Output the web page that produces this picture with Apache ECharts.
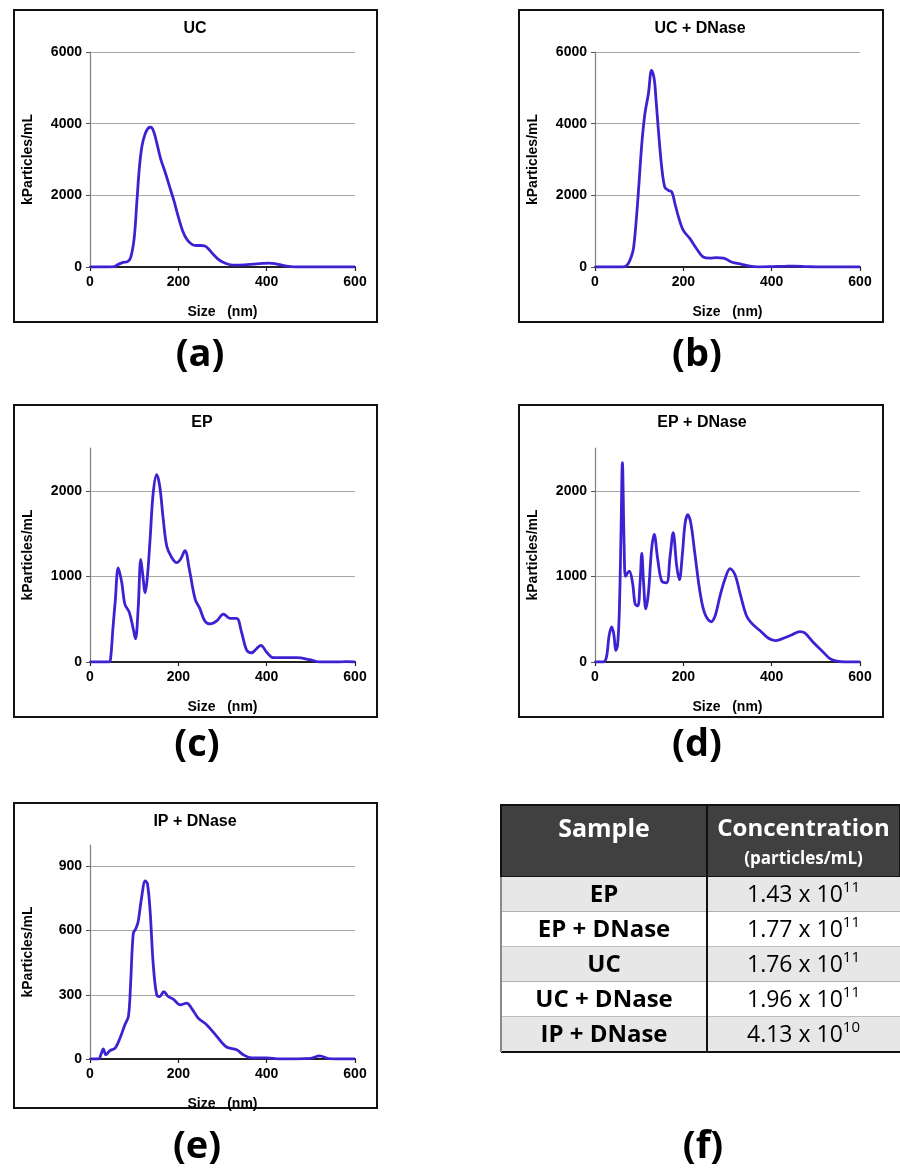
<!DOCTYPE html>
<html>
<head>
<meta charset="utf-8">
<script src="https://cdn.jsdelivr.net/npm/echarts@6/dist/echarts.min.js"></script>
<style>
  html, body { margin:0; padding:0; background:#fff; }
  #chart { width:900px; height:1168px; }
</style>
</head>
<body>
<div id="chart"></div>
<script>
// ---------- DATA (size nm, kParticles/mL) ----------
const UC = [[0,0],[40,0],[55,10],[65,80],[75,130],[85,150],[92,260],[100,800],[106,1800],[112,2800],[118,3400],[125,3720],[132,3880],[138,3900],[145,3750],[152,3420],[160,3020],[170,2650],[180,2250],[190,1850],[200,1400],[210,1000],[220,760],[230,640],[240,600],[250,600],[260,585],[270,480],[280,340],[290,220],[300,140],[315,70],[330,50],[350,60],[370,80],[390,100],[405,110],[420,90],[435,50],[450,15],[470,0],[600,0]];
const UC_DNASE = [[0,0],[60,0],[68,10],[75,90],[82,280],[87,510],[92,1100],[98,2050],[106,3440],[113,4280],[121,4840],[128,5490],[134,5250],[138,4700],[143,3900],[151,2790],[158,2230],[166,2140],[174,2090],[181,1770],[189,1400],[200,1020],[215,790],[230,510],[245,280],[260,250],[275,260],[291,250],[309,140],[332,75],[355,20],[380,5],[400,10],[430,20],[450,25],[480,10],[510,0],[600,0]];
const EP = [[0,0],[43,0],[47,60],[52,400],[57,700],[64,1100],[72,925],[79,675],[89,580],[98,385],[103,270],[109,620],[115,1200],[119,1040],[125,810],[130,1000],[136,1430],[143,1970],[151,2190],[158,2050],[166,1660],[174,1350],[185,1220],[196,1160],[205,1200],[215,1300],[225,1080],[238,735],[249,620],[260,480],[272,445],[287,480],[302,560],[317,510],[332,510],[343,350],[355,135],[366,108],[377,155],[387,195],[400,115],[415,50],[438,50],[468,50],[498,27],[521,0],[560,0],[580,5],[600,0]];
const EP_DNASE = [[0,0],[19,0],[26,60],[32,310],[38,410],[43,310],[47,135],[51,190],[55,580],[59,1540],[62,2330],[66,1350],[69,1000],[74,1040],[78,1060],[85,925],[91,675],[97,655],[102,925],[106,1270],[110,925],[115,620],[121,810],[128,1310],[134,1490],[142,1200],[151,945],[162,925],[170,1235],[177,1510],[185,1120],[191,960],[198,1270],[204,1620],[210,1720],[217,1620],[226,1270],[238,810],[249,560],[263,470],[272,540],[283,770],[294,965],[306,1090],[317,1020],[328,810],[343,540],[356,445],[374,365],[392,280],[408,250],[423,270],[445,315],[464,355],[475,340],[494,230],[513,135],[532,40],[547,10],[566,0],[600,0]];
const IP_DNASE = [[0,0],[19,0],[26,28],[30,47],[36,20],[45,39],[57,51],[68,98],[79,160],[87,199],[92,354],[98,587],[104,610],[109,641],[117,757],[125,832],[130,819],[136,695],[143,447],[151,300],[158,292],[167,315],[177,292],[189,279],[204,253],[219,261],[230,237],[245,191],[264,160],[287,106],[309,56],[332,43],[347,20],[366,5],[400,5],[430,0],[500,3],[520,15],[540,2],[560,0],[600,0]];

const panelTitles = ['UC', 'UC + DNase', 'EP', 'EP + DNase', 'IP + DNase'];
const panelData = [UC, UC_DNASE, EP, EP_DNASE, IP_DNASE];
const yMax = [6000, 6000, 2500, 2500, 1000];
const yStep = [2000, 2000, 1000, 1000, 300];
const xTickMax = 600, xTickStep = 200;
const panelLetters = ['(a)', '(b)', '(c)', '(d)', '(e)', '(f)'];

const tableHeader = ['Sample', 'Concentration', '(particles/mL)'];
const tableSamples = ['EP', 'EP + DNase', 'UC', 'UC + DNase', 'IP + DNase'];
const tableMantissa = ['1.43', '1.77', '1.76', '1.96', '4.13'];
const tableExponent = ['11', '11', '11', '11', '10'];

// ---------- LAYOUT ----------
const grids = [
  {left:90, top:52, width:265, height:215},
  {left:595, top:52, width:265, height:215},
  {left:90, top:448, width:265, height:214},
  {left:595, top:448, width:265, height:214},
  {left:90, top:845, width:265, height:214}
];
const boxes = [
  [14,10,363,312],[519,10,364,312],[14,405,363,312],[519,405,364,312],[14,803,363,305]
];
const titlePos = [[195,29],[700,29],[202,423],[702,423],[195,822]];
const letterPos = [[200,355],[697,355],[197,745],[697,745],[197,1147],[703,1147]];

const ARIAL = '"Liberation Sans", Arial, sans-serif';
const CAL = '"Open Sans", "Lato", sans-serif';
const LINE = '#3c23d2';

const xAxes = [], yAxes = [], series = [], graphics = [];
for (let i = 0; i < 5; i++) {
  const exact = yMax[i] % yStep[i] === 0;
  xAxes.push({
    gridIndex:i, type:'value', min:0, max:xTickMax, interval:xTickStep,
    axisLine:{show:true, onZero:false, lineStyle:{color:'#222', width:2}},
    axisTick:{show:true, length:4, lineStyle:{color:'#222', width:1.2}},
    axisLabel:{color:'#000', fontWeight:'bold', fontSize:14, fontFamily:ARIAL, margin:8,
      formatter: v => String(v)},
    splitLine:{show:false},
    name:'Size   (nm)', nameLocation:'middle', nameGap:38,
    nameTextStyle:{color:'#000', fontWeight:'bold', fontSize:14, fontFamily:ARIAL}
  });
  yAxes.push({
    gridIndex:i, type:'value', min:0, max:yMax[i], interval:yStep[i],
    axisLine:{show:true, lineStyle:{color:'#808080', width:1.2}},
    axisTick:{show:true, length:4, lineStyle:{color:'#555', width:1}},
    axisLabel:{color:'#000', fontWeight:'bold', fontSize:14, fontFamily:ARIAL, margin:8, showMaxLabel:exact,
      formatter: v => String(v)},
    splitLine:{show:true, showMinLine:false, showMaxLine:exact, lineStyle:{color:'#a6a6a6', width:1}},
    name:'kParticles/mL', nameLocation:'middle', nameGap:55,
    nameTextStyle:{color:'#000', fontWeight:'bold', fontSize:14, fontFamily:ARIAL}
  });
  series.push({
    type:'line', xAxisIndex:i, yAxisIndex:i, data:panelData[i],
    showSymbol:false, smooth:0.35, animation:false, silent:true,
    lineStyle:{color:LINE, width:2.8}
  });
  const b = boxes[i];
  graphics.push({type:'rect', shape:{x:b[0], y:b[1], width:b[2], height:b[3]},
    style:{fill:null, stroke:'#111', lineWidth:2}, silent:true});
  graphics.push({type:'text', x:titlePos[i][0], y:titlePos[i][1],
    style:{text:panelTitles[i], fill:'#000', font:'bold 16px ' + ARIAL, textAlign:'center', textVerticalAlign:'middle'}});
}
for (let i = 0; i < 6; i++) {
  graphics.push({type:'text', x:letterPos[i][0], y:letterPos[i][1],
    style:{text:panelLetters[i], fill:'#000', font:'bold 38px ' + CAL, textAlign:'center', textVerticalAlign:'middle'}});
}

// ---------- TABLE ----------
const tL = 501, tR = 900, tDiv = 707, tTop = 805, hBot = 877, rowH = 35;
const c1 = (tL + tDiv) / 2, c2 = (tDiv + tR) / 2;
graphics.push({type:'rect', shape:{x:tL, y:tTop, width:tR - tL, height:hBot - tTop},
  style:{fill:'#404040', stroke:'#111', lineWidth:2}});
graphics.push({type:'text', x:c1, y:tTop + 25, style:{text:tableHeader[0], fill:'#fff',
  font:'bold 25px ' + CAL, textAlign:'center', textVerticalAlign:'middle'}});
graphics.push({type:'text', x:c2, y:tTop + 24, style:{text:tableHeader[1], fill:'#fff',
  font:'bold 24px ' + CAL, textAlign:'center', textVerticalAlign:'middle'}});
graphics.push({type:'text', x:c2, y:tTop + 54, style:{text:tableHeader[2], fill:'#fff',
  font:'bold 17px ' + CAL, textAlign:'center', textVerticalAlign:'middle'}});
for (let r = 0; r < tableSamples.length; r++) {
  const y0 = hBot + r * rowH;
  graphics.push({type:'rect', shape:{x:tL, y:y0, width:tR - tL, height:rowH},
    style:{fill: r % 2 === 0 ? '#e7e7e7' : '#ffffff', stroke:null}});
  graphics.push({type:'line', shape:{x1:tL, y1:y0 + rowH, x2:tR, y2:y0 + rowH},
    style:{stroke: r === tableSamples.length - 1 ? '#111' : '#7a7a7a', lineWidth: r === tableSamples.length - 1 ? 2 : 1}});
  graphics.push({type:'text', x:c1, y:y0 + rowH / 2 + 1, style:{text:tableSamples[r], fill:'#000',
    font:'bold 24px ' + CAL, textAlign:'center', textVerticalAlign:'middle'}});
  graphics.push({type:'text', x:c2, y:y0 + rowH / 2 + 1, style:{
    text:'{m|' + tableMantissa[r] + ' x 10}{e|' + tableExponent[r] + '}',
    textAlign:'center', textVerticalAlign:'middle',
    rich:{
      m:{fontSize:23, fontFamily:CAL, fill:'#000', lineHeight:30, verticalAlign:'middle'},
      e:{fontSize:15, fontFamily:CAL, fill:'#000', lineHeight:30, verticalAlign:'top'}
    }}});
}
graphics.push({type:'line', shape:{x1:tL, y1:hBot, x2:tL, y2:hBot + rowH * tableSamples.length},
  style:{stroke:'#8a8a8a', lineWidth:2}});
graphics.push({type:'line', shape:{x1:tDiv, y1:tTop, x2:tDiv, y2:hBot + rowH * tableSamples.length},
  style:{stroke:'#111', lineWidth:2}});

const chart = echarts.init(document.getElementById('chart'), null, {renderer:'canvas'});
chart.setOption({
  animation:false,
  backgroundColor:'#fff',
  grid: grids,
  xAxis: xAxes,
  yAxis: yAxes,
  series: series,
  graphic: {elements: graphics}
});
</script>
</body>
</html>
